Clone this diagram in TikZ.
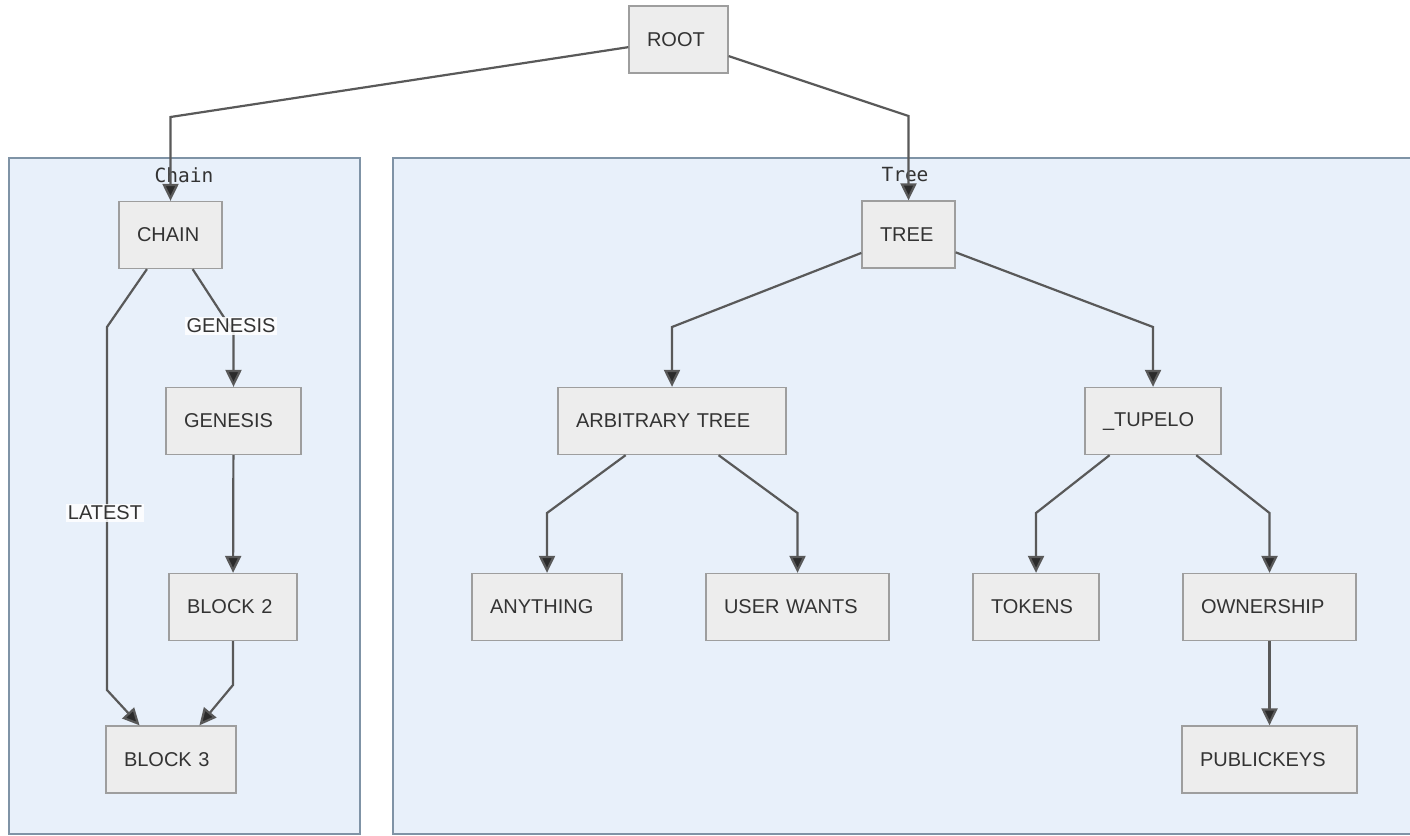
\documentclass[tikz,border=0pt]{standalone}
\usepackage{fontspec}
\setmainfont{Liberation Sans}
\newfontfamily\clmono{DejaVu Sans Mono}
\usetikzlibrary{arrows.meta}
\definecolor{nodefill}{HTML}{EDEDED}
\definecolor{nodeline}{HTML}{9E9E9E}
\definecolor{clfill}{HTML}{E8F0FA}
\definecolor{clline}{HTML}{7F93A6}
\definecolor{edgecol}{HTML}{595959}
\definecolor{txtcol}{HTML}{333333}
\definecolor{tipcol}{HTML}{2B2B2B}
\tikzset{
  box/.style={draw=nodeline, line width=1.3pt, fill=nodefill, minimum height=67pt, inner ysep=0pt,
    inner xsep=18pt, text width=\dimexpr#1-36pt\relax, align=left,
    font=\fontsize{20}{23}\selectfont, text=txtcol},
  cluster/.style={draw=clline, line width=1.3pt, fill=clfill},
  cltitle/.style={font=\clmono\fontsize{19.5}{22}\selectfont, text=txtcol},
  edge/.style={draw=edgecol, line width=2.2pt, -{Triangle[length=17pt,width=16pt,fill=tipcol]}},
  elabel/.style={fill=white, fill opacity=0.85, text opacity=1, inner sep=2pt, font=\fontsize{20}{23}\selectfont, text=txtcol}
}
\begin{document}
\begin{tikzpicture}[x=1pt,y=-1pt]
\useasboundingbox (0,0) rectangle (1410,835);
\clip (0,0) rectangle (1410,835);
\fill[white] (0,0) rectangle (1410,835);
% clusters
\draw[cluster] (9,158) rectangle (360,834);
\draw[cluster] (393,158) rectangle (1420,834);
\node[cltitle] (tchain) at (184,175) {Chain};
\node[cltitle] (ttree) at (905,175) {Tree};
% nodes
\node[box=99pt] (root) at (678.5,39.5) {ROOT};
\node[box=103pt] (chain) at (170.5,235) {CHAIN};
\node[box=135pt] (genesis) at (233.5,421) {GENESIS};
\node[box=128pt] (block2) at (233,607) {BLOCK 2};
\node[box=130pt] (block3) at (171,759.5) {BLOCK 3};
\node[box=93pt] (tree) at (908.5,234.5) {TREE};
\node[box=228pt] (arb) at (672,421) {ARBITRARY TREE};
\node[box=136pt] (tupelo) at (1153,421) {\_TUPELO};
\node[box=150pt] (anything) at (547,607) {ANYTHING};
\node[box=183pt] (userwants) at (797.5,607) {USER WANTS};
\node[box=126pt] (tokens) at (1036,607) {TOKENS};
\node[box=173pt] (ownership) at (1269.5,607) {OWNERSHIP};
\node[box=175pt] (publickeys) at (1269.5,759.5) {PUBLICKEYS};
% edges
\draw[edge] (root) -- (170.5,117) -- (chain);
\draw[edge] (root) -- (908.5,116) -- (tree);
\draw[edge] (chain) -- (107,327) -- (107,690) -- (block3);
\draw[edge] (chain) -- (233.5,332) -- (genesis);
\draw[edge] (genesis) -- (block2);
\draw[edge] (block2) -- (233,685) -- (block3);
\draw[edge] (tree) -- (672,327) -- (arb);
\draw[edge] (tree) -- (1153,327) -- (tupelo);
\draw[edge] (arb) -- (547,513) -- (anything);
\draw[edge] (arb) -- (797.5,513) -- (userwants);
\draw[edge] (tupelo) -- (1036,513) -- (tokens);
\draw[edge] (tupelo) -- (1269.5,513) -- (ownership);
\draw[edge] (ownership) -- (publickeys);
% edge labels
\node[elabel] (lgen) at (231,326) {GENESIS};
\node[elabel] (llat) at (105,513) {LATEST};
\end{tikzpicture}
\end{document}
